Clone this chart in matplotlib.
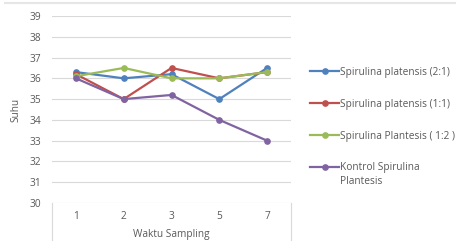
import matplotlib.pyplot as plt
from matplotlib.lines import Line2D

# Data
waktu = ["1", "2", "3", "5", "7"]
sp_21 = [36.3, 36.0, 36.2, 35.0, 36.5]
sp_11 = [36.2, 35.0, 36.5, 36.0, 36.3]
sp_12 = [36.1, 36.5, 36.0, 36.0, 36.3]
kontrol = [36.0, 35.0, 35.2, 34.0, 33.0]

labels = ["Spirulina platensis (2:1)", "Spirulina platensis (1:1)",
          "Spirulina Plantesis ( 1:2 )", "Kontrol Spirulina"]
colors = ["#4F81BD", "#C0504D", "#9BBB59", "#8064A2"]

plt.rcParams['font.family'] = ['Open Sans', 'DejaVu Sans']
txt = "#595959"
fs = 7.3

fig = plt.figure(figsize=(4.61, 2.41), dpi=100)
ax = fig.add_axes([52 / 461, 1 - 203 / 241, 239 / 461, 187 / 241])

x = range(len(waktu))
for y, c, lab in zip([sp_21, sp_11, sp_12, kontrol], colors, labels):
    ax.plot(x, y, color=c, lw=1.6, marker="o", ms=3.8, label=lab)

ax.set_xlim(-0.5, 4.5)
ax.set_ylim(30, 39)
ax.set_yticks(range(30, 40))
ax.set_xticks(list(x))
ax.set_xticklabels(waktu)
ax.grid(axis="y", color="#D9D9D9", lw=0.8)
ax.set_axisbelow(True)
for s in ax.spines.values():
    s.set_visible(False)
ax.tick_params(length=0, labelsize=fs, colors=txt)
ax.tick_params(axis="y", pad=8)
ax.tick_params(axis="x", pad=6)
ax.set_xlabel("Waktu Sampling", fontsize=fs, color=txt)
ax.xaxis.set_label_coords(0.5, -26 / 187)
ax.set_ylabel("Suhu", fontsize=fs, color=txt)
ax.yaxis.set_label_coords(-31 / 239, 0.5)

# box around category axis area
fig.add_artist(Line2D([52 / 461, 52 / 461], [0, 1 - 203 / 241], color="#D9D9D9", lw=0.8))
fig.add_artist(Line2D([291 / 461, 291 / 461], [0, 1 - 203 / 241], color="#D9D9D9", lw=0.8))
# top border line
fig.add_artist(Line2D([5 / 461, 455 / 461], [1 - 3 / 241, 1 - 3 / 241], color="#E6E6E6", lw=1.5))

fig.legend(loc="upper left", bbox_to_anchor=(310 / 461, 1 - 67 / 241), frameon=False,
           fontsize=fs, labelcolor=txt, handlelength=2.9, handletextpad=0.1,
           labelspacing=2.05, borderaxespad=0, borderpad=0)
fig.text(340 / 461, 1 - 181 / 241, "Plantesis", fontsize=fs, color=txt, va="center")

fig.savefig("out.png", dpi=100)
